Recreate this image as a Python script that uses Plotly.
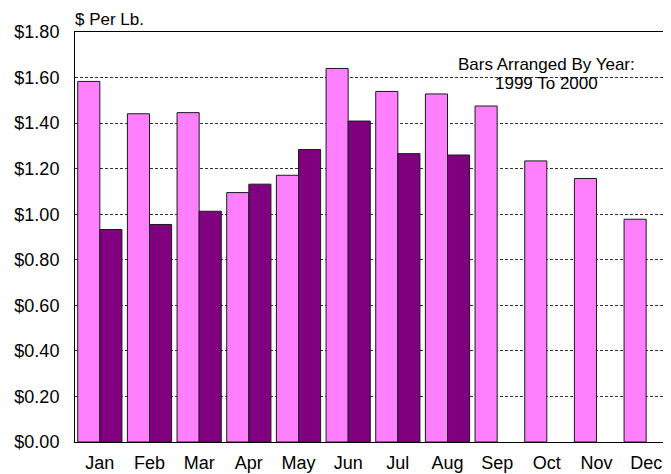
import plotly.graph_objects as go

months = ["Jan", "Feb", "Mar", "Apr", "May", "Jun", "Jul", "Aug", "Sep", "Oct", "Nov", "Dec"]
prices_1999 = [1.583, 1.441, 1.446, 1.095, 1.171, 1.640, 1.539, 1.528, 1.475, 1.234, 1.157, 0.978]
prices_2000 = [0.933, 0.955, 1.013, 1.132, 1.284, 1.409, 1.266, 1.260, None, None, None, None]
tick_vals = [0, 0.2, 0.4, 0.6, 0.8, 1.0, 1.2, 1.4, 1.6, 1.8]
tick_text = ["$0.00", "$0.20", "$0.40", "$0.60", "$0.80", "$1.00", "$1.20", "$1.40", "$1.60", "$1.80"]

font = "Liberation Sans, Arial, sans-serif"

fig = go.Figure()
fig.add_trace(go.Bar(x=months, y=prices_1999, name="1999",
                     marker=dict(color="#FF80FF", line=dict(color="#1a1a1a", width=1))))
fig.add_trace(go.Bar(x=months, y=prices_2000, name="2000",
                     marker=dict(color="#800080", line=dict(color="#1a1a1a", width=1))))

# page body has an 8px default margin, so the figure is shrunk by 8px
fig.update_layout(
    width=663, height=466,
    margin=dict(l=67, r=0, t=24, b=32, pad=0),
    paper_bgcolor="white", plot_bgcolor="white",
    barmode="group", bargap=0.11, bargroupgap=0,
    showlegend=False,
    font=dict(family=font, size=18, color="#000000"),
    xaxis=dict(showline=True, linecolor="#000000", linewidth=1, mirror=True,
               ticks="outside", ticklen=4, tickcolor="rgba(0,0,0,0)",
               tickfont=dict(size=18), showgrid=False),
    yaxis=dict(range=[0, 1.8], tickvals=tick_vals, ticktext=tick_text,
               showline=True, linecolor="#000000", linewidth=1,
               ticks="outside", ticklen=11, tickcolor="rgba(0,0,0,0)",
               showgrid=True, gridcolor="#333333", griddash="3px,2px", gridwidth=1,
               tickfont=dict(size=18), zeroline=False),
    annotations=[
        dict(text="$ Per Lb.", xref="paper", yref="paper", x=0, y=1, xanchor="left",
             yanchor="middle", yshift=13, xshift=-2, showarrow=False, font=dict(size=17)),
        dict(text="Bars Arranged By Year:", xref="x", yref="paper",
             x=9.0, y=0.9207, xanchor="center", yanchor="middle", showarrow=False,
             font=dict(size=17)),
        dict(text="1999 To 2000", xref="x", yref="paper",
             x=9.0, y=0.8744, xanchor="center", yanchor="middle", showarrow=False,
             font=dict(size=17)),
    ],
)

fig.write_html("out.html")
